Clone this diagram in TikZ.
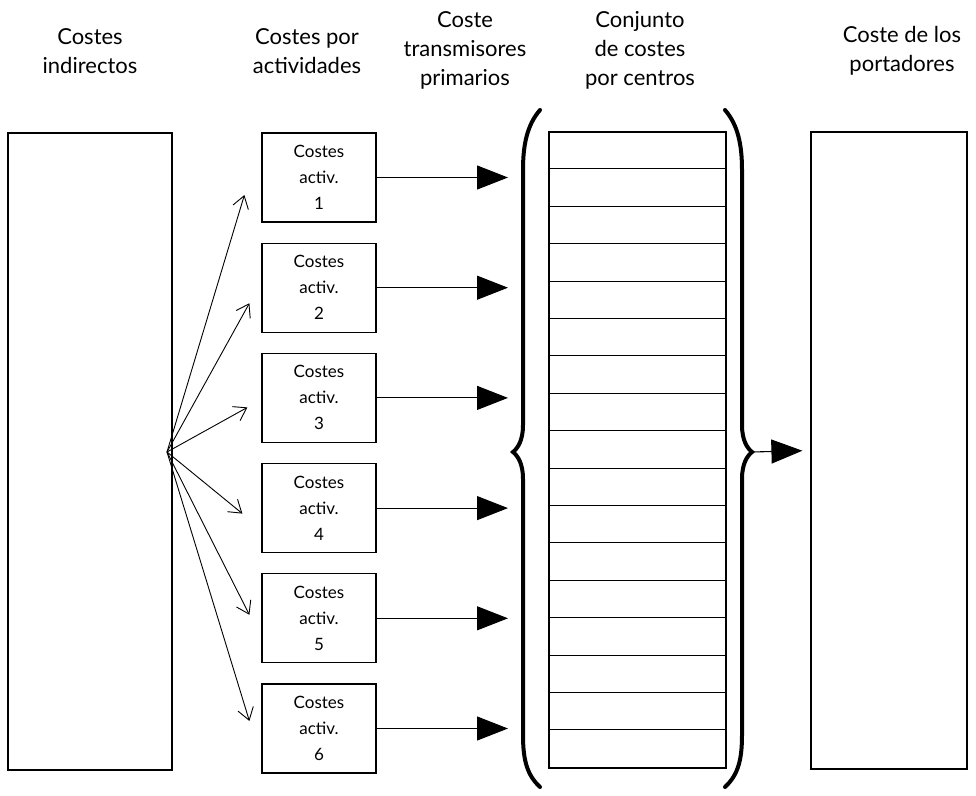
\documentclass[tikz,border=0pt]{standalone}
\usepackage{fontspec}
\setmainfont{Lato}
\usetikzlibrary{arrows.meta, positioning}

\begin{document}
\begin{tikzpicture}[
    x=1pt, y=1pt,
    node distance=20pt,
    bigbox/.style={rectangle, draw, line width=1.2pt, minimum height=637pt, inner sep=0pt},
    actbox/.style={rectangle, draw, line width=1.2pt, minimum width=114pt, minimum height=89pt, align=center, inner sep=0pt, font=\fontsize{17}{26}\selectfont},
    header/.style={align=center, font=\fontsize{22}{29}\selectfont},
    fan/.style={-{Straight Barb[length=12pt, width=16pt]}, line width=0.9pt},
    arrow/.style={-{Triangle[length=31pt, width=24pt]}, line width=1.1pt},
    brace/.style={line width=4pt, line cap=round}
]
    \useasboundingbox (0,0) rectangle (976,-795);

    % Headers
    \node[header] (hind) at (90,-51) {Costes\\indirectos};
    \node[header] (hact) at (307,-51) {Costes por\\actividades};
    \node[header] (htra) at (465,-50) {Coste\\transmisores\\primarios};
    \node[header] (hcen) at (640,-50) {Conjunto\\de costes\\por centros};
    \node[header] (hpor) at (902,-51) {Coste de los\\portadores};

    % Nodes
    \node[bigbox, minimum width=164pt] (indirectos) at (90,-451.5) {};
    \node[bigbox, minimum width=156pt] (portadores) at (889,-450.5) {};
    \node[bigbox, minimum width=177pt, minimum height=636pt] (centros) at (637.5,-450) {};
    \foreach \i in {1,...,16}
        \draw[line width=1pt] ([yshift=-\i*37.41pt]centros.north west) -- ([yshift=-\i*37.41pt]centros.north east);

    \node[actbox] (act1) at (319,-177.5) {Costes\\activ.\\1};
    \node[actbox, below=of act1] (act2) {Costes\\activ.\\2};
    \node[actbox, below=of act2] (act3) {Costes\\activ.\\3};
    \node[actbox, below=of act3] (act4) {Costes\\activ.\\4};
    \node[actbox, below=of act4] (act5) {Costes\\activ.\\5};
    \node[actbox, below=of act5] (act6) {Costes\\activ.\\6};

    \coordinate (fan) at (167,-452);
    \coordinate (inlet) at (508,-452);

    % Braces
    \draw[brace] (540,-110) .. controls (527,-125) and (523,-145) .. (523,-170) -- (523,-425)
        .. controls (523,-440) and (518,-448) .. (513,-452)
        .. controls (518,-456) and (523,-464) .. (523,-479) -- (523,-735)
        .. controls (523,-760) and (527,-775) .. (540,-787);
    \draw[brace] (725,-110) .. controls (738,-125) and (742,-145) .. (742,-170) -- (742,-425)
        .. controls (742,-440) and (747,-448) .. (752,-452) coordinate (rtip)
        .. controls (747,-456) and (742,-464) .. (742,-479) -- (742,-735)
        .. controls (742,-760) and (738,-775) .. (725,-787);

    % Arrows
    \draw[fan] (fan) -- ([xshift=-17pt, yshift=-17.5pt]act1.west);
    \draw[fan] (fan) -- ([xshift=-12pt, yshift=-15.5pt]act2.west);
    \draw[fan] (fan) -- ([xshift=-14pt, yshift=-9.5pt]act3.west);
    \draw[fan] (fan) -- ([xshift=-19pt, yshift=-5.5pt]act4.west);
    \draw[fan] (fan) -- ([xshift=-12pt, yshift=3.5pt]act5.west);
    \draw[fan] (fan) -- ([xshift=-12pt, yshift=7.5pt]act6.west);

    \draw[arrow] (act1.east) -- (act1.east -| inlet);
    \draw[arrow] (act2.east) -- (act2.east -| inlet);
    \draw[arrow] (act3.east) -- (act3.east -| inlet);
    \draw[arrow] (act4.east) -- (act4.east -| inlet);
    \draw[arrow] (act5.east) -- (act5.east -| inlet);
    \draw[arrow] (act6.east) -- (act6.east -| inlet);

    \draw[arrow, shorten >=8pt] (rtip) -- (portadores.west);
\end{tikzpicture}
\end{document}
